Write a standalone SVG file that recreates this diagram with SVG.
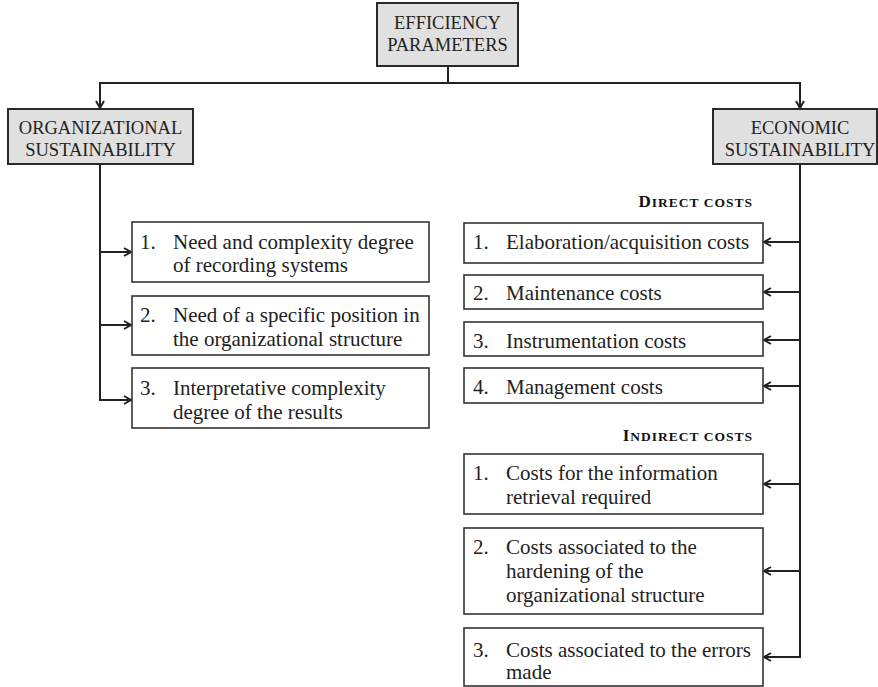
<svg xmlns="http://www.w3.org/2000/svg" width="878" height="687" viewBox="0 0 878 687">
<style>
.hdr{fill:#e0e0e0;stroke:#2a2a2a;stroke-width:2}
.box{fill:#ffffff;stroke:#333333;stroke-width:1.6}
.ht{font-family:"Liberation Serif","Times New Roman",serif;font-size:18.5px;fill:#222;text-anchor:middle}
.it{font-family:"Liberation Serif","Times New Roman",serif;font-size:21px;fill:#222}
.sc{font-family:"Liberation Serif","Times New Roman",serif;font-weight:bold;fill:#111;text-anchor:end;letter-spacing:1px}
.c{fill:none;stroke:#222;stroke-width:2}
</style>
<defs>
<marker id="ar" markerWidth="12" markerHeight="12" refX="9" refY="5" orient="auto" markerUnits="userSpaceOnUse">
<path d="M2,1 L9,5 L2,9" fill="none" stroke="#222" stroke-width="2"/>
</marker>
</defs>
<g id="connectors">
<path class="c" d="M448,66 V83 H100 V108" marker-end="url(#ar)"/>
<path class="c" d="M448,83 H800 V108" marker-end="url(#ar)"/>
<path class="c" d="M100,164 V400 H131" marker-end="url(#ar)"/>
<path class="c" d="M100,252 H131" marker-end="url(#ar)"/>
<path class="c" d="M100,325 H131" marker-end="url(#ar)"/>
<path class="c" d="M800,164 V657 H764" marker-end="url(#ar)"/>
<path class="c" d="M800,242 H764" marker-end="url(#ar)"/>
<path class="c" d="M800,292 H764" marker-end="url(#ar)"/>
<path class="c" d="M800,340 H764" marker-end="url(#ar)"/>
<path class="c" d="M800,386 H764" marker-end="url(#ar)"/>
<path class="c" d="M800,484 H764" marker-end="url(#ar)"/>
<path class="c" d="M800,571 H764" marker-end="url(#ar)"/>
</g>
<g id="efficiency">
<rect class="hdr" x="377" y="3" width="141" height="63"/>
<text class="ht" x="447.5" y="29">EFFICIENCY</text>
<text class="ht" x="447.5" y="51">PARAMETERS</text>
</g>
<g id="organizational">
<rect class="hdr" x="8" y="109" width="185" height="55"/>
<text class="ht" x="100.5" y="134">ORGANIZATIONAL</text>
<text class="ht" x="100.5" y="156">SUSTAINABILITY</text>
</g>
<g id="economic">
<rect class="hdr" x="713" y="109" width="164" height="55"/>
<text class="ht" x="800" y="134">ECONOMIC</text>
<text class="ht" x="800" y="156">SUSTAINABILITY</text>
</g>
<g id="org1">
<rect class="box" x="132" y="222" width="297" height="60"/>
<text class="it" x="140" y="249">1.</text>
<text class="it" x="173" y="249">Need and complexity degree</text>
<text class="it" x="173" y="272">of recording systems</text>
</g>
<g id="org2">
<rect class="box" x="132" y="296" width="297" height="59"/>
<text class="it" x="140" y="322">2.</text>
<text class="it" x="173" y="322">Need of a specific position in</text>
<text class="it" x="173" y="346">the organizational structure</text>
</g>
<g id="org3">
<rect class="box" x="132" y="368" width="297" height="60"/>
<text class="it" x="140" y="395">3.</text>
<text class="it" x="173" y="395">Interpretative complexity</text>
<text class="it" x="173" y="419">degree of the results</text>
</g>
<g id="direct-label">
<text class="sc" x="753" y="207"><tspan font-size="17px">D</tspan><tspan font-size="13.5px">IRECT COSTS</tspan></text>
</g>
<g id="dir1">
<rect class="box" x="464" y="223" width="299" height="40"/>
<text class="it" x="473" y="249">1.</text>
<text class="it" x="506" y="249">Elaboration/acquisition costs</text>
</g>
<g id="dir2">
<rect class="box" x="464" y="275" width="299" height="34"/>
<text class="it" x="473" y="300">2.</text>
<text class="it" x="506" y="300">Maintenance costs</text>
</g>
<g id="dir3">
<rect class="box" x="464" y="322" width="299" height="34"/>
<text class="it" x="473" y="348">3.</text>
<text class="it" x="506" y="348">Instrumentation costs</text>
</g>
<g id="dir4">
<rect class="box" x="464" y="368" width="299" height="35"/>
<text class="it" x="473" y="394">4.</text>
<text class="it" x="506" y="394">Management costs</text>
</g>
<g id="indirect-label">
<text class="sc" x="753" y="441"><tspan font-size="17px">I</tspan><tspan font-size="13.5px">NDIRECT COSTS</tspan></text>
</g>
<g id="ind1">
<rect class="box" x="464" y="454" width="299" height="60"/>
<text class="it" x="473" y="480">1.</text>
<text class="it" x="506" y="480">Costs for the information</text>
<text class="it" x="506" y="504">retrieval required</text>
</g>
<g id="ind2">
<rect class="box" x="464" y="528" width="299" height="86"/>
<text class="it" x="473" y="554">2.</text>
<text class="it" x="506" y="554">Costs associated to the</text>
<text class="it" x="506" y="578">hardening of the</text>
<text class="it" x="506" y="602">organizational structure</text>
</g>
<g id="ind3">
<rect class="box" x="464" y="628" width="299" height="58"/>
<text class="it" x="473" y="657">3.</text>
<text class="it" x="506" y="657">Costs associated to the errors</text>
<text class="it" x="506" y="679">made</text>
</g>
</svg>
